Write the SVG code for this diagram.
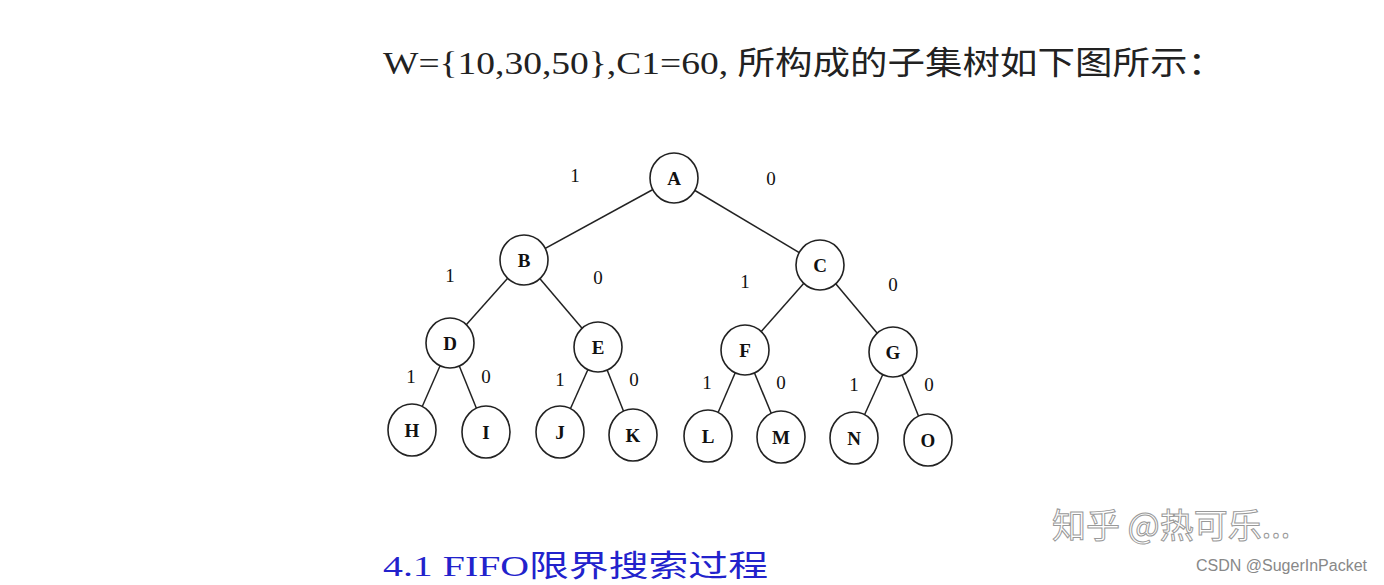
<svg xmlns="http://www.w3.org/2000/svg" width="1384" height="585" viewBox="0 0 1384 585">
<style>
.n ellipse{fill:#fff;stroke:#222;stroke-width:1.6}
.n text{font-family:"Liberation Serif",serif;font-weight:bold;font-size:19px;text-anchor:middle;fill:#111}
.e line{stroke:#222;stroke-width:1.5}
.l{font-family:"Liberation Serif",serif;font-size:19px;text-anchor:middle;fill:#111}
</style>
<rect width="1384" height="585" fill="#fff"/>
<text x="383" y="74" font-family="'Liberation Serif','Noto Sans CJK SC',serif" font-size="32" fill="#222" textLength="842" lengthAdjust="spacingAndGlyphs">W={10,30,50},C1=60, 所构成的子集树如下图所示：</text>
<g class="e">
<line x1="674" y1="178" x2="524" y2="260"/><line x1="674" y1="178" x2="820" y2="265"/>
<line x1="524" y1="260" x2="450" y2="343"/><line x1="524" y1="260" x2="598" y2="347"/>
<line x1="820" y1="265" x2="745" y2="350"/><line x1="820" y1="265" x2="893" y2="352"/>
<line x1="450" y1="343" x2="412" y2="430"/><line x1="450" y1="343" x2="486" y2="432"/>
<line x1="598" y1="347" x2="560" y2="432"/><line x1="598" y1="347" x2="633" y2="435"/>
<line x1="745" y1="350" x2="708" y2="436"/><line x1="745" y1="350" x2="781" y2="437"/>
<line x1="893" y1="352" x2="854" y2="438"/><line x1="893" y1="352" x2="928" y2="440"/>
</g>
<g id="A" class="n"><ellipse cx="674" cy="178" rx="24" ry="25"/><text x="674" y="185">A</text></g>
<g id="B" class="n"><ellipse cx="524" cy="260" rx="24" ry="25"/><text x="524" y="267">B</text></g>
<g id="C" class="n"><ellipse cx="820" cy="265" rx="24" ry="25"/><text x="820" y="272">C</text></g>
<g id="D" class="n"><ellipse cx="450" cy="343" rx="24" ry="25"/><text x="450" y="350">D</text></g>
<g id="E" class="n"><ellipse cx="598" cy="347" rx="24" ry="25"/><text x="598" y="354">E</text></g>
<g id="F" class="n"><ellipse cx="745" cy="350" rx="24" ry="25"/><text x="745" y="357">F</text></g>
<g id="G" class="n"><ellipse cx="893" cy="352" rx="24" ry="25"/><text x="893" y="359">G</text></g>
<g id="H" class="n"><ellipse cx="412" cy="430" rx="24" ry="26"/><text x="412" y="437">H</text></g>
<g id="I" class="n"><ellipse cx="486" cy="432" rx="24" ry="26"/><text x="486" y="439">I</text></g>
<g id="J" class="n"><ellipse cx="560" cy="432" rx="24" ry="26"/><text x="560" y="439">J</text></g>
<g id="K" class="n"><ellipse cx="633" cy="435" rx="24" ry="26"/><text x="633" y="442">K</text></g>
<g id="L" class="n"><ellipse cx="708" cy="436" rx="24" ry="26"/><text x="708" y="443">L</text></g>
<g id="M" class="n"><ellipse cx="781" cy="437" rx="24" ry="26"/><text x="781" y="444">M</text></g>
<g id="N" class="n"><ellipse cx="854" cy="438" rx="24" ry="26"/><text x="854" y="445">N</text></g>
<g id="O" class="n"><ellipse cx="928" cy="440" rx="24" ry="26"/><text x="928" y="447">O</text></g>
<g class="l">
<text x="575" y="182">1</text><text x="771" y="185">0</text>
<text x="450" y="282">1</text><text x="598" y="284">0</text>
<text x="745" y="288">1</text><text x="893" y="291">0</text>
<text x="411" y="383">1</text><text x="486" y="383">0</text>
<text x="560" y="386">1</text><text x="634" y="386">0</text>
<text x="707" y="389">1</text><text x="781" y="389">0</text>
<text x="854" y="391">1</text><text x="929" y="391">0</text>
</g>
<text x="383" y="576" font-family="'Liberation Serif','Noto Sans CJK SC',serif" font-size="30" fill="#2222cc" textLength="385" lengthAdjust="spacingAndGlyphs">4.1  FIFO限界搜索过程</text>
<text x="1052" y="538" font-family="'Noto Sans CJK SC',sans-serif" font-size="34" fill="#fff" stroke="#999" stroke-width="1">知乎 @热可乐...</text>
<text x="1367" y="571" text-anchor="end" font-family="'Liberation Sans',sans-serif" font-size="16" fill="#888">CSDN @SugerInPacket</text>
</svg>
